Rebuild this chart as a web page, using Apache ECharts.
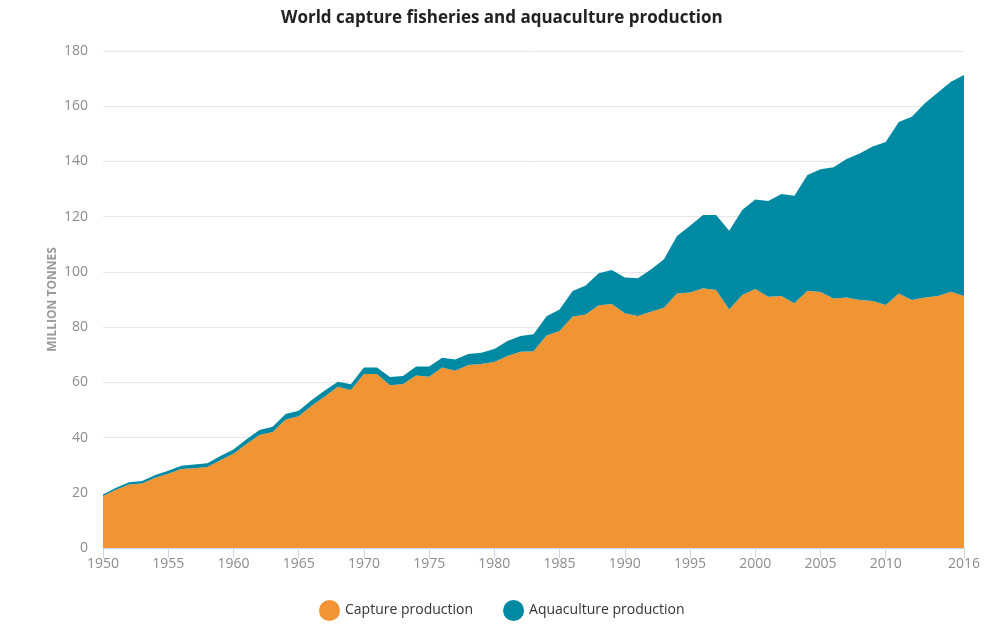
<!DOCTYPE html>
<html>
<head>
<meta charset="utf-8">
<script src="https://cdn.jsdelivr.net/npm/echarts@6/dist/echarts.min.js"></script>
<style>
html,body{margin:0;padding:0;background:#fff;}
#chart{width:991px;height:624px;}
</style>
</head>
<body>
<div id="chart"></div>
<script>
var years = [];
for (var y = 1950; y <= 2016; y++) years.push(String(y));

var capture = [18.8,21.1,23.0,23.4,25.4,26.9,28.6,28.9,29.3,31.8,
  34.1,37.7,40.9,42.0,46.5,47.7,51.5,54.9,58.4,57.2,
  63.0,63.0,58.9,59.4,62.5,62.0,65.4,64.2,66.3,66.6,
  67.4,69.5,71.1,71.3,77.0,78.6,83.8,84.6,87.9,88.4,
  85.0,84.0,85.6,87.0,92.2,92.5,94.1,93.4,86.4,91.6,
  93.8,91.0,91.3,88.6,93.2,92.7,90.4,90.7,89.8,89.5,
  88.0,92.2,89.8,90.7,91.3,92.8,91.3];

var aquaculture = [0.6,0.7,0.8,0.9,1.0,1.1,1.2,1.3,1.4,1.5,
  1.6,1.7,1.8,1.9,2.0,2.0,2.1,2.1,1.8,2.1,
  2.4,2.4,3.0,2.9,3.2,3.7,3.5,4.1,4.0,4.1,
  4.7,5.5,5.7,6.1,6.9,7.8,9.3,10.5,11.6,12.3,
  13.0,13.7,15.3,17.6,20.8,24.2,26.5,27.2,28.5,30.8,
  32.4,34.7,36.9,39.0,41.9,44.5,47.5,50.2,53.1,55.9,
  59.0,62.1,66.4,70.4,73.7,76.1,80.0];

var seriesNames = ['Capture production', 'Aquaculture production'];
var yTicks = {min: 0, max: 180, step: 20};

function showYear(idx, val) {
  var v = parseInt(val, 10);
  return (v % 5 === 0 && v !== 2015) || v === 2016;
}

var chart = echarts.init(document.getElementById('chart'));
chart.setOption({
  animation: false,
  textStyle: {fontFamily: 'Open Sans'},
  title: {
    text: 'World capture fisheries and aquaculture production',
    left: 276,
    top: 5,
    textStyle: {fontFamily: 'Open Sans', fontWeight: 'bold', fontSize: 17, color: '#222'}
  },
  grid: {left: 103, right: 27, top: 51, bottom: 76},
  legend: {
    bottom: 3,
    padding: 0,
    left: 319,
    icon: 'circle',
    itemWidth: 21,
    itemHeight: 21,
    itemGap: 30,
    data: seriesNames,
    textStyle: {fontFamily: 'Open Sans', fontSize: 14, color: '#333'}
  },
  xAxis: {
    type: 'category',
    data: years,
    boundaryGap: false,
    axisLine: {lineStyle: {color: '#ccd6eb'}},
    axisTick: {interval: showYear, length: 10, lineStyle: {color: '#ccd6eb'}},
    axisLabel: {interval: showYear, color: '#8c8c8c', fontSize: 14, margin: 9, fontFamily: 'Open Sans'},
    splitLine: {show: false}
  },
  yAxis: {
    type: 'value',
    min: yTicks.min,
    max: yTicks.max,
    interval: yTicks.step,
    name: 'MILLION TONNES',
    nameLocation: 'middle',
    nameGap: 44,
    nameMoveOverlap: false,
    nameTextStyle: {fontFamily: 'Open Sans', fontWeight: 'bold', fontSize: 12, color: '#999'},
    axisLine: {show: false},
    axisTick: {show: false},
    axisLabel: {color: '#8c8c8c', fontSize: 14, margin: 15, fontFamily: 'Open Sans'},
    splitLine: {lineStyle: {color: '#e6e6e6'}}
  },
  series: [
    {
      name: seriesNames[0],
      type: 'line',
      stack: 'total',
      data: capture,
      symbol: 'none',
      lineStyle: {width: 0},
      areaStyle: {color: '#f09434', opacity: 1},
      itemStyle: {color: '#f09434'}
    },
    {
      name: seriesNames[1],
      type: 'line',
      stack: 'total',
      data: aquaculture,
      symbol: 'none',
      lineStyle: {width: 0},
      areaStyle: {color: '#0089a3', opacity: 1},
      itemStyle: {color: '#0089a3'}
    }
  ]
});
</script>
</body>
</html>
